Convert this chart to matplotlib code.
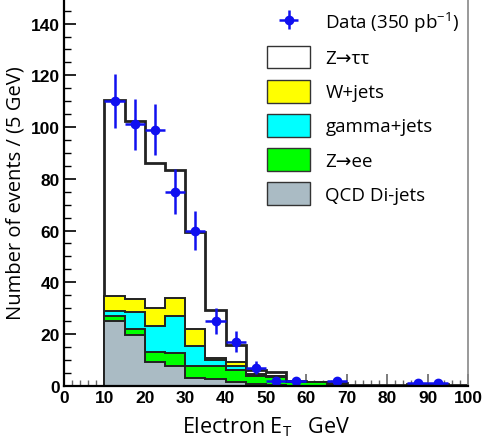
import numpy as np
import matplotlib
matplotlib.use('Agg')
import matplotlib.pyplot as plt
from matplotlib.patches import Patch

plt.rcParams['mathtext.fontset'] = 'custom'
plt.rcParams['mathtext.rm'] = 'Open Sans'
plt.rcParams['mathtext.it'] = 'Open Sans:italic'

# 5 GeV bins, 0 -> 100
edges = np.arange(0, 105, 5)

# per-process contributions (events / 5 GeV)
qcd   = [0, 0, 25.1, 19.6, 9.3, 7.5, 2.9, 2.5, 1.5, 0.5, 0.3, 0, 0, 0, 0, 0, 0, 0, 0, 0]
zee   = [0, 0, 1.7, 2.3, 3.8, 5.1, 4.7, 5.0, 4.7, 3.1, 2.9, 1.4, 1.3, 0.4, 0, 0, 0, 0, 0, 0]
gamma = [0, 0, 2.2, 6.5, 10.1, 14.2, 7.6, 2.4, 1.3, 0.6, 0.4, 0.1, 0, 0, 0, 0, 0, 0, 0, 0]
wjets = [0, 0, 5.8, 5.1, 6.7, 7.0, 6.6, 0.8, 1.8, 0.3, 0.3, 0.1, 0.1, 0.1, 0, 0, 0, 0, 0, 0]
ztt   = [0, 0, 75.8, 69.0, 56.2, 49.6, 37.5, 18.6, 6.3, 1.5, 1.5, 0.3, 0.1, 0.7, 0.2, 0.2, 0.2, 0.5, 0.5, 0.2]

data     = [0, 0, 110, 101, 99, 75, 60, 25, 17, 7, 2, 2, 0, 2, 0, 0, 0, 1, 1, 0]
data_err = [0, 0, 10.5, 10, 10, 8.7, 7.7, 5, 4.1, 2.6, 1.4, 1.4, 0, 1.4, 0, 0, 0, 1, 1, 0]

fig = plt.figure(figsize=(4.83, 4.39), dpi=100)
ax = fig.add_axes([64/483, 52.3/439, 404/483, 386.7/439])

# stack, drawn from the top layer down
layers = [(ztt, 'white', 'Z→ττ'),
          (wjets, '#ffff00', 'W+jets'),
          (gamma, '#00ffff', 'gamma+jets'),
          (zee, '#00ff00', 'Z→ee'),
          (qcd, '#aabbc4', 'QCD Di-jets')]
comps = np.array([l[0] for l in layers])
handles = []
for i, (vals, col, lab) in enumerate(layers):
    top = comps[i:].sum(axis=0)
    ax.stairs(top, edges, baseline=0, fill=True, facecolor=col, edgecolor='none', zorder=2 + i)
    ax.stairs(top, edges, baseline=0, fill=False, edgecolor='#222222',
              lw=2.0 if i == 0 else 1.4, zorder=2 + i)
    handles.append(Patch(facecolor=col, edgecolor='#333333', lw=1, label=lab))

centers = (edges[:-1] + edges[1:]) / 2
d = np.array(data, dtype=float)
e = np.array(data_err)
nz = d > 0
dat = ax.errorbar(centers[nz], d[nz], xerr=2.5, yerr=e[nz], fmt='o', color='#1010f0',
                  ms=6, elinewidth=1.8, capsize=0, zorder=20, label='Data (350 pb$^{-1}$)')
ax.errorbar(centers[~nz], d[~nz], xerr=2.5, fmt='none', ecolor='#1010f0',
            elinewidth=1.8, zorder=19)

ax.set_xlim(0, 100)
ax.set_ylim(0, 149.5)
ax.set_xticks(np.arange(0, 101, 10))
ax.set_xticks(np.arange(0, 101, 2), minor=True)
ax.set_yticks(np.arange(0, 141, 20))
ax.set_yticks(np.arange(0, 146, 5), minor=True)
ax.tick_params(axis='both', which='both', direction='in')
ax.tick_params(axis='y', which='major', length=8.5, width=1.2, pad=3)
ax.tick_params(axis='y', which='minor', length=5, width=1.0)
ax.tick_params(axis='x', which='major', length=8.5, width=1.2, color='#666666', pad=3)
ax.tick_params(axis='x', which='minor', length=4, width=1.0, color='#666666')
for lab in ax.get_xticklabels() + ax.get_yticklabels():
    lab.set_fontfamily('Liberation Sans')
    lab.set_fontweight('bold')
    lab.set_fontsize(12.5)

ax.spines['top'].set_visible(False)
ax.spines['left'].set_linewidth(1.6)
ax.spines['bottom'].set_linewidth(1.6)
ax.spines['right'].set_color('#888888')
ax.spines['right'].set_linewidth(1.2)
for s in ax.spines.values():
    s.set_zorder(30)

ax.set_ylabel('Number of events / (5 GeV)', fontfamily='Open Sans', fontsize=14.5, labelpad=4)
ax.set_xlabel(r'Electron E$_\mathrm{T}$   GeV', fontfamily='Open Sans', fontsize=15.5, labelpad=7)

leg = ax.legend([dat] + handles, [dat.get_label()] + [h.get_label() for h in handles],
                loc='upper left', bbox_to_anchor=(0.475, 1.0), frameon=False,
                prop={'family': ['Open Sans', 'DejaVu Sans'], 'size': 13.5},
                handlelength=2.3, handleheight=1.5, labelspacing=0.6, handletextpad=0.8,
                borderaxespad=0.2)
leg.set_zorder(40)

fig.savefig('out.png', dpi=100)
